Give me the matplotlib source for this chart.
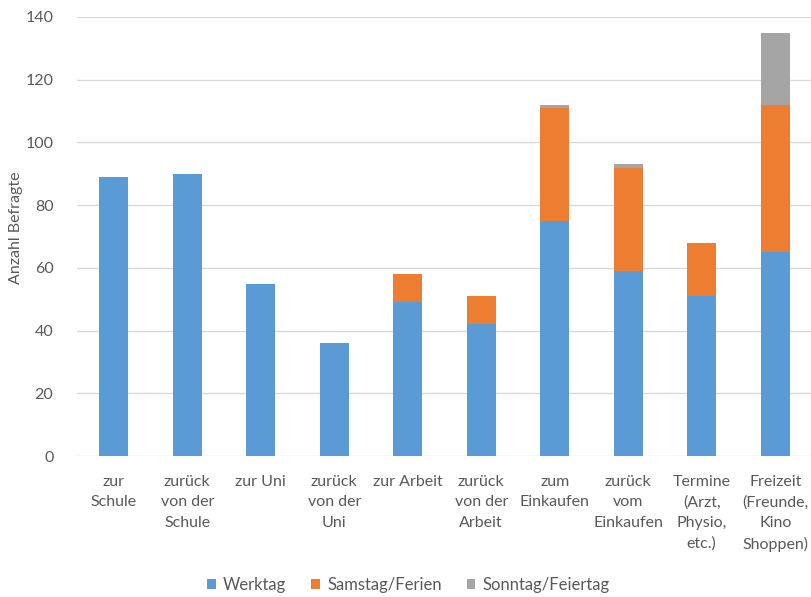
import numpy as np
import matplotlib.pyplot as plt

plt.rcParams['font.family'] = ['Lato', 'DejaVu Sans']

categories = ["zur\nSchule", "zurück\nvon der\nSchule", "zur Uni", "zurück\nvon der\nUni",
              "zur Arbeit", "zurück\nvon der\nArbeit", "zum\nEinkaufen", "zurück\nvom\nEinkaufen",
              "Termine\n(Arzt,\nPhysio,\netc.)", "Freizeit\n(Freunde,\nKino\nShoppen)"]
werktag = [89, 90, 55, 36, 49, 42, 75, 59, 51, 65]
samstag = [0, 0, 0, 0, 9, 9, 36, 33, 17, 47]
sonntag = [0, 0, 0, 0, 0, 0, 1, 1, 0, 23]

series = [("Werktag", werktag, "#5B9BD5"),
          ("Samstag/Ferien", samstag, "#ED7D31"),
          ("Sonntag/Feiertag", sonntag, "#A5A5A5")]

txt = "#595959"

fig = plt.figure(figsize=(8.11, 5.97), dpi=100)
ax = fig.add_axes([77 / 811, 1 - 456 / 597, 735 / 811, 439 / 597])

x = np.arange(len(categories))
bottom = np.zeros(len(categories))
for name, vals, col in series:
    vals = np.array(vals, dtype=float)
    ax.bar(x, vals, 0.4, bottom=bottom, color=col, label=name, zorder=3)
    bottom += vals

ax.set_ylim(0, 140)
ax.set_xlim(-0.5, len(categories) - 0.5)
ax.set_yticks(range(0, 141, 20))
ax.yaxis.grid(True, color="#D9D9D9", linewidth=1, zorder=0)
for s in ax.spines.values():
    s.set_visible(False)
ax.tick_params(axis='both', length=0, labelsize=11.5, colors=txt)
ax.tick_params(axis='y', pad=17)
ax.tick_params(axis='x', pad=14)
ax.set_xticks(x)
ax.set_xticklabels(categories, linespacing=1.55, va='top')
ax.set_ylabel("Anzahl Befragte", fontsize=11.5, color=txt)
ax.yaxis.set_label_coords(-0.073, 0.52)

ax.legend(loc='center', bbox_to_anchor=(0.451, -0.294), ncol=3, frameon=False,
          fontsize=12, labelcolor=txt, handlelength=0.5, handleheight=0.5,
          handletextpad=0.45, columnspacing=1.5)

fig.savefig("out.png", dpi=100)
